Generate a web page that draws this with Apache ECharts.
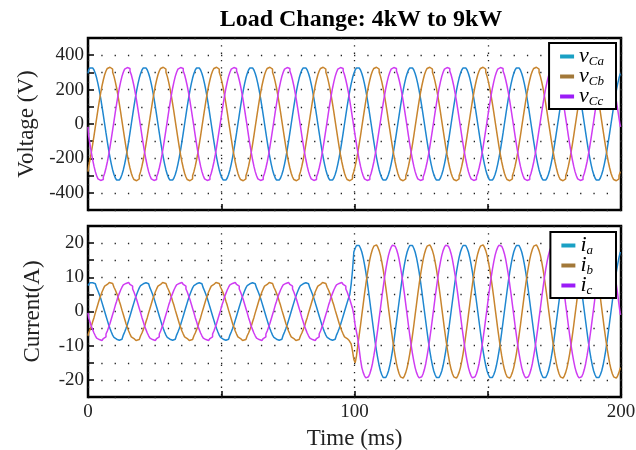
<!DOCTYPE html>
<html>
<head>
<meta charset="utf-8">
<title>Load Change: 4kW to 9kW</title>
<script src="https://cdn.jsdelivr.net/npm/echarts@6.0.0/dist/echarts.min.js"></script>
<style>
  html, body { margin: 0; padding: 0; background: #fff; }
  #main { width: 636px; height: 450px; }
</style>
</head>
<body>
<div id="main"></div>
<script>
// capacitor voltages (V), one sample every 0.5 ms, 0..200 ms (one line = one 20 ms cycle)
const vCa = [
  294, 314, 326, 330, 326, 314, 294, 267, 233, 194, 150, 102, 52, 0, -52, -102, -150, -194, -233, -267, -294, -314, -326, -330, -326, -314, -294, -267, -233, -194, -150, -102, -52, 0, 52, 102, 150, 194, 233, 267,
  294, 314, 326, 330, 326, 314, 294, 267, 233, 194, 150, 102, 52, 0, -52, -102, -150, -194, -233, -267, -294, -314, -326, -330, -326, -314, -294, -267, -233, -194, -150, -102, -52, 0, 52, 102, 150, 194, 233, 267,
  294, 314, 326, 330, 326, 314, 294, 267, 233, 194, 150, 102, 52, 0, -52, -102, -150, -194, -233, -267, -294, -314, -326, -330, -326, -314, -294, -267, -233, -194, -150, -102, -52, 0, 52, 102, 150, 194, 233, 267,
  294, 314, 326, 330, 326, 314, 294, 267, 233, 194, 150, 102, 52, 0, -52, -102, -150, -194, -233, -267, -294, -314, -326, -330, -326, -314, -294, -267, -233, -194, -150, -102, -52, 0, 52, 102, 150, 194, 233, 267,
  294, 314, 326, 330, 326, 314, 294, 267, 233, 194, 150, 102, 52, 0, -52, -102, -150, -194, -233, -267, -294, -314, -326, -330, -326, -314, -294, -267, -233, -194, -150, -102, -52, 0, 52, 102, 150, 194, 233, 267,
  294, 314, 326, 330, 326, 314, 294, 267, 233, 194, 150, 102, 52, 0, -52, -102, -150, -194, -233, -267, -294, -314, -326, -330, -326, -314, -294, -267, -233, -194, -150, -102, -52, 0, 52, 102, 150, 194, 233, 267,
  294, 314, 326, 330, 326, 314, 294, 267, 233, 194, 150, 102, 52, 0, -52, -102, -150, -194, -233, -267, -294, -314, -326, -330, -326, -314, -294, -267, -233, -194, -150, -102, -52, 0, 52, 102, 150, 194, 233, 267,
  294, 314, 326, 330, 326, 314, 294, 267, 233, 194, 150, 102, 52, 0, -52, -102, -150, -194, -233, -267, -294, -314, -326, -330, -326, -314, -294, -267, -233, -194, -150, -102, -52, 0, 52, 102, 150, 194, 233, 267,
  294, 314, 326, 330, 326, 314, 294, 267, 233, 194, 150, 102, 52, 0, -52, -102, -150, -194, -233, -267, -294, -314, -326, -330, -326, -314, -294, -267, -233, -194, -150, -102, -52, 0, 52, 102, 150, 194, 233, 267,
  294, 314, 326, 330, 326, 314, 294, 267, 233, 194, 150, 102, 52, 0, -52, -102, -150, -194, -233, -267, -294, -314, -326, -330, -326, -314, -294, -267, -233, -194, -150, -102, -52, 0, 52, 102, 150, 194, 233, 267,
  294
];
const vCb = [
  -277, -245, -208, -165, -118, -69, -17, 34, 85, 134, 180, 221, 256, 286, 308, 323, 330, 328, 319, 301, 277, 245, 208, 165, 118, 69, 17, -34, -85, -134, -180, -221, -256, -286, -308, -323, -330, -328, -319, -301,
  -277, -245, -208, -165, -118, -69, -17, 34, 85, 134, 180, 221, 256, 286, 308, 323, 330, 328, 319, 301, 277, 245, 208, 165, 118, 69, 17, -34, -85, -134, -180, -221, -256, -286, -308, -323, -330, -328, -319, -301,
  -277, -245, -208, -165, -118, -69, -17, 34, 85, 134, 180, 221, 256, 286, 308, 323, 330, 328, 319, 301, 277, 245, 208, 165, 118, 69, 17, -34, -85, -134, -180, -221, -256, -286, -308, -323, -330, -328, -319, -301,
  -277, -245, -208, -165, -118, -69, -17, 34, 85, 134, 180, 221, 256, 286, 308, 323, 330, 328, 319, 301, 277, 245, 208, 165, 118, 69, 17, -34, -85, -134, -180, -221, -256, -286, -308, -323, -330, -328, -319, -301,
  -277, -245, -208, -165, -118, -69, -17, 34, 85, 134, 180, 221, 256, 286, 308, 323, 330, 328, 319, 301, 277, 245, 208, 165, 118, 69, 17, -34, -85, -134, -180, -221, -256, -286, -308, -323, -330, -328, -319, -301,
  -277, -245, -208, -165, -118, -69, -17, 34, 85, 134, 180, 221, 256, 286, 308, 323, 330, 328, 319, 301, 277, 245, 208, 165, 118, 69, 17, -34, -85, -134, -180, -221, -256, -286, -308, -323, -330, -328, -319, -301,
  -277, -245, -208, -165, -118, -69, -17, 34, 85, 134, 180, 221, 256, 286, 308, 323, 330, 328, 319, 301, 277, 245, 208, 165, 118, 69, 17, -34, -85, -134, -180, -221, -256, -286, -308, -323, -330, -328, -319, -301,
  -277, -245, -208, -165, -118, -69, -17, 34, 85, 134, 180, 221, 256, 286, 308, 323, 330, 328, 319, 301, 277, 245, 208, 165, 118, 69, 17, -34, -85, -134, -180, -221, -256, -286, -308, -323, -330, -328, -319, -301,
  -277, -245, -208, -165, -118, -69, -17, 34, 85, 134, 180, 221, 256, 286, 308, 323, 330, 328, 319, 301, 277, 245, 208, 165, 118, 69, 17, -34, -85, -134, -180, -221, -256, -286, -308, -323, -330, -328, -319, -301,
  -277, -245, -208, -165, -118, -69, -17, 34, 85, 134, 180, 221, 256, 286, 308, 323, 330, 328, 319, 301, 277, 245, 208, 165, 118, 69, 17, -34, -85, -134, -180, -221, -256, -286, -308, -323, -330, -328, -319, -301,
  -277
];
const vCc = [
  -17, -69, -118, -165, -208, -245, -277, -301, -319, -328, -330, -323, -308, -286, -256, -221, -180, -134, -85, -34, 17, 69, 118, 165, 208, 245, 277, 301, 319, 328, 330, 323, 308, 286, 256, 221, 180, 134, 85, 34,
  -17, -69, -118, -165, -208, -245, -277, -301, -319, -328, -330, -323, -308, -286, -256, -221, -180, -134, -85, -34, 17, 69, 118, 165, 208, 245, 277, 301, 319, 328, 330, 323, 308, 286, 256, 221, 180, 134, 85, 34,
  -17, -69, -118, -165, -208, -245, -277, -301, -319, -328, -330, -323, -308, -286, -256, -221, -180, -134, -85, -34, 17, 69, 118, 165, 208, 245, 277, 301, 319, 328, 330, 323, 308, 286, 256, 221, 180, 134, 85, 34,
  -17, -69, -118, -165, -208, -245, -277, -301, -319, -328, -330, -323, -308, -286, -256, -221, -180, -134, -85, -34, 17, 69, 118, 165, 208, 245, 277, 301, 319, 328, 330, 323, 308, 286, 256, 221, 180, 134, 85, 34,
  -17, -69, -118, -165, -208, -245, -277, -301, -319, -328, -330, -323, -308, -286, -256, -221, -180, -134, -85, -34, 17, 69, 118, 165, 208, 245, 277, 301, 319, 328, 330, 323, 308, 286, 256, 221, 180, 134, 85, 34,
  -17, -69, -118, -165, -208, -245, -277, -301, -319, -328, -330, -323, -308, -286, -256, -221, -180, -134, -85, -34, 17, 69, 118, 165, 208, 245, 277, 301, 319, 328, 330, 323, 308, 286, 256, 221, 180, 134, 85, 34,
  -17, -69, -118, -165, -208, -245, -277, -301, -319, -328, -330, -323, -308, -286, -256, -221, -180, -134, -85, -34, 17, 69, 118, 165, 208, 245, 277, 301, 319, 328, 330, 323, 308, 286, 256, 221, 180, 134, 85, 34,
  -17, -69, -118, -165, -208, -245, -277, -301, -319, -328, -330, -323, -308, -286, -256, -221, -180, -134, -85, -34, 17, 69, 118, 165, 208, 245, 277, 301, 319, 328, 330, 323, 308, 286, 256, 221, 180, 134, 85, 34,
  -17, -69, -118, -165, -208, -245, -277, -301, -319, -328, -330, -323, -308, -286, -256, -221, -180, -134, -85, -34, 17, 69, 118, 165, 208, 245, 277, 301, 319, 328, 330, 323, 308, 286, 256, 221, 180, 134, 85, 34,
  -17, -69, -118, -165, -208, -245, -277, -301, -319, -328, -330, -323, -308, -286, -256, -221, -180, -134, -85, -34, 17, 69, 118, 165, 208, 245, 277, 301, 319, 328, 330, 323, 308, 286, 256, 221, 180, 134, 85, 34,
  -17
];

// load currents (A), same sampling; load steps from 4kW to 9kW at ~100 ms
const ia = [
  7.6, 8.1, 8.4, 8.5, 8.4, 8.1, 7.6, 6.9, 6.0, 5.0, 3.9, 2.6, 1.3, 0, -1.3, -2.6, -3.9, -5.0, -6.0, -6.9, -7.6, -8.1, -8.4, -8.5, -8.4, -8.1, -7.6, -6.9, -6.0, -5.0, -3.9, -2.6, -1.3, 0, 1.3, 2.6, 3.9, 5.0, 6.0, 6.9,
  7.6, 8.1, 8.4, 8.5, 8.4, 8.1, 7.6, 6.9, 6.0, 5.0, 3.9, 2.6, 1.3, 0, -1.3, -2.6, -3.9, -5.0, -6.0, -6.9, -7.6, -8.1, -8.4, -8.5, -8.4, -8.1, -7.6, -6.9, -6.0, -5.0, -3.9, -2.6, -1.3, 0, 1.3, 2.6, 3.9, 5.0, 6.0, 6.9,
  7.6, 8.1, 8.4, 8.5, 8.4, 8.1, 7.6, 6.9, 6.0, 5.0, 3.9, 2.6, 1.3, 0, -1.3, -2.6, -3.9, -5.0, -6.0, -6.9, -7.6, -8.1, -8.4, -8.5, -8.4, -8.1, -7.6, -6.9, -6.0, -5.0, -3.9, -2.6, -1.3, 0, 1.3, 2.6, 3.9, 5.0, 6.0, 6.9,
  7.6, 8.1, 8.4, 8.5, 8.4, 8.1, 7.6, 6.9, 6.0, 5.0, 3.9, 2.6, 1.3, 0, -1.3, -2.6, -3.9, -5.0, -6.0, -6.9, -7.6, -8.1, -8.4, -8.5, -8.4, -8.1, -7.6, -6.9, -6.0, -5.0, -3.9, -2.6, -1.3, 0, 1.3, 2.6, 3.9, 5.0, 6.0, 6.9,
  7.6, 8.1, 8.4, 8.5, 8.4, 8.1, 7.6, 6.9, 6.0, 5.0, 3.9, 2.6, 1.3, 0, -1.3, -2.6, -3.9, -5.0, -6.0, -6.9, -7.6, -8.1, -8.4, -8.5, -8.4, -8.1, -7.6, -6.9, -6.0, -5.0, -3.9, -2.6, -1.3, 0, 1.3, 2.6, 3.9, 5.0, 8.0, 12.0,
  17.4, 18.5, 19.3, 19.5, 19.3, 18.5, 17.4, 15.8, 13.8, 11.5, 8.9, 6.0, 3.0, 0, -3.0, -6.0, -8.9, -11.5, -13.8, -15.8, -17.4, -18.5, -19.3, -19.5, -19.3, -18.5, -17.4, -15.8, -13.8, -11.5, -8.9, -6.0, -3.0, 0, 3.0, 6.0, 8.9, 11.5, 13.8, 15.8,
  17.4, 18.5, 19.3, 19.5, 19.3, 18.5, 17.4, 15.8, 13.8, 11.5, 8.9, 6.0, 3.0, 0, -3.0, -6.0, -8.9, -11.5, -13.8, -15.8, -17.4, -18.5, -19.3, -19.5, -19.3, -18.5, -17.4, -15.8, -13.8, -11.5, -8.9, -6.0, -3.0, 0, 3.0, 6.0, 8.9, 11.5, 13.8, 15.8,
  17.4, 18.5, 19.3, 19.5, 19.3, 18.5, 17.4, 15.8, 13.8, 11.5, 8.9, 6.0, 3.0, 0, -3.0, -6.0, -8.9, -11.5, -13.8, -15.8, -17.4, -18.5, -19.3, -19.5, -19.3, -18.5, -17.4, -15.8, -13.8, -11.5, -8.9, -6.0, -3.0, 0, 3.0, 6.0, 8.9, 11.5, 13.8, 15.8,
  17.4, 18.5, 19.3, 19.5, 19.3, 18.5, 17.4, 15.8, 13.8, 11.5, 8.9, 6.0, 3.0, 0, -3.0, -6.0, -8.9, -11.5, -13.8, -15.8, -17.4, -18.5, -19.3, -19.5, -19.3, -18.5, -17.4, -15.8, -13.8, -11.5, -8.9, -6.0, -3.0, 0, 3.0, 6.0, 8.9, 11.5, 13.8, 15.8,
  17.4, 18.5, 19.3, 19.5, 19.3, 18.5, 17.4, 15.8, 13.8, 11.5, 8.9, 6.0, 3.0, 0, -3.0, -6.0, -8.9, -11.5, -13.8, -15.8, -17.4, -18.5, -19.3, -19.5, -19.3, -18.5, -17.4, -15.8, -13.8, -11.5, -8.9, -6.0, -3.0, 0, 3.0, 6.0, 8.9, 11.5, 13.8, 15.8,
  17.4
];
const ib = [
  -7.1, -6.3, -5.3, -4.3, -3.0, -1.8, -0.4, 0.9, 2.2, 3.5, 4.6, 5.7, 6.6, 7.4, 7.9, 8.3, 8.5, 8.5, 8.2, 7.8, 7.1, 6.3, 5.3, 4.3, 3.0, 1.8, 0.4, -0.9, -2.2, -3.5, -4.6, -5.7, -6.6, -7.4, -7.9, -8.3, -8.5, -8.5, -8.2, -7.8,
  -7.1, -6.3, -5.3, -4.3, -3.0, -1.8, -0.4, 0.9, 2.2, 3.5, 4.6, 5.7, 6.6, 7.4, 7.9, 8.3, 8.5, 8.5, 8.2, 7.8, 7.1, 6.3, 5.3, 4.3, 3.0, 1.8, 0.4, -0.9, -2.2, -3.5, -4.6, -5.7, -6.6, -7.4, -7.9, -8.3, -8.5, -8.5, -8.2, -7.8,
  -7.1, -6.3, -5.3, -4.3, -3.0, -1.8, -0.4, 0.9, 2.2, 3.5, 4.6, 5.7, 6.6, 7.4, 7.9, 8.3, 8.5, 8.5, 8.2, 7.8, 7.1, 6.3, 5.3, 4.3, 3.0, 1.8, 0.4, -0.9, -2.2, -3.5, -4.6, -5.7, -6.6, -7.4, -7.9, -8.3, -8.5, -8.5, -8.2, -7.8,
  -7.1, -6.3, -5.3, -4.3, -3.0, -1.8, -0.4, 0.9, 2.2, 3.5, 4.6, 5.7, 6.6, 7.4, 7.9, 8.3, 8.5, 8.5, 8.2, 7.8, 7.1, 6.3, 5.3, 4.3, 3.0, 1.8, 0.4, -0.9, -2.2, -3.5, -4.6, -5.7, -6.6, -7.4, -7.9, -8.3, -8.5, -8.5, -8.2, -7.8,
  -7.1, -6.3, -5.3, -4.3, -3.0, -1.8, -0.4, 0.9, 2.2, 3.5, 4.6, 5.7, 6.6, 7.4, 7.9, 8.3, 8.5, 8.5, 8.2, 7.8, 7.1, 6.3, 5.3, 4.3, 3.0, 1.8, 0.4, -0.9, -2.2, -3.5, -4.6, -5.7, -6.6, -7.4, -7.9, -8.3, -8.5, -8.5, -9.5, -11.5,
  -14.0, -15.0, -13.0, -9.8, -7.0, -4.1, -1.0, 2.0, 5.1, 7.9, 10.6, 13.0, 15.2, 16.9, 18.2, 19.1, 19.5, 19.4, 18.8, 17.8, 16.4, 14.5, 12.3, 9.8, 7.0, 4.1, 1.0, -2.0, -5.1, -7.9, -10.6, -13.0, -15.2, -16.9, -18.2, -19.1, -19.5, -19.4, -18.8, -17.8,
  -16.4, -14.5, -12.3, -9.8, -7.0, -4.1, -1.0, 2.0, 5.1, 7.9, 10.6, 13.0, 15.2, 16.9, 18.2, 19.1, 19.5, 19.4, 18.8, 17.8, 16.4, 14.5, 12.3, 9.8, 7.0, 4.1, 1.0, -2.0, -5.1, -7.9, -10.6, -13.0, -15.2, -16.9, -18.2, -19.1, -19.5, -19.4, -18.8, -17.8,
  -16.4, -14.5, -12.3, -9.8, -7.0, -4.1, -1.0, 2.0, 5.1, 7.9, 10.6, 13.0, 15.2, 16.9, 18.2, 19.1, 19.5, 19.4, 18.8, 17.8, 16.4, 14.5, 12.3, 9.8, 7.0, 4.1, 1.0, -2.0, -5.1, -7.9, -10.6, -13.0, -15.2, -16.9, -18.2, -19.1, -19.5, -19.4, -18.8, -17.8,
  -16.4, -14.5, -12.3, -9.8, -7.0, -4.1, -1.0, 2.0, 5.1, 7.9, 10.6, 13.0, 15.2, 16.9, 18.2, 19.1, 19.5, 19.4, 18.8, 17.8, 16.4, 14.5, 12.3, 9.8, 7.0, 4.1, 1.0, -2.0, -5.1, -7.9, -10.6, -13.0, -15.2, -16.9, -18.2, -19.1, -19.5, -19.4, -18.8, -17.8,
  -16.4, -14.5, -12.3, -9.8, -7.0, -4.1, -1.0, 2.0, 5.1, 7.9, 10.6, 13.0, 15.2, 16.9, 18.2, 19.1, 19.5, 19.4, 18.8, 17.8, 16.4, 14.5, 12.3, 9.8, 7.0, 4.1, 1.0, -2.0, -5.1, -7.9, -10.6, -13.0, -15.2, -16.9, -18.2, -19.1, -19.5, -19.4, -18.8, -17.8,
  -16.4
];
const ic = [
  -0.4, -1.8, -3.0, -4.3, -5.3, -6.3, -7.1, -7.8, -8.2, -8.5, -8.5, -8.3, -7.9, -7.4, -6.6, -5.7, -4.6, -3.5, -2.2, -0.9, 0.4, 1.8, 3.0, 4.3, 5.3, 6.3, 7.1, 7.8, 8.2, 8.5, 8.5, 8.3, 7.9, 7.4, 6.6, 5.7, 4.6, 3.5, 2.2, 0.9,
  -0.4, -1.8, -3.0, -4.3, -5.3, -6.3, -7.1, -7.8, -8.2, -8.5, -8.5, -8.3, -7.9, -7.4, -6.6, -5.7, -4.6, -3.5, -2.2, -0.9, 0.4, 1.8, 3.0, 4.3, 5.3, 6.3, 7.1, 7.8, 8.2, 8.5, 8.5, 8.3, 7.9, 7.4, 6.6, 5.7, 4.6, 3.5, 2.2, 0.9,
  -0.4, -1.8, -3.0, -4.3, -5.3, -6.3, -7.1, -7.8, -8.2, -8.5, -8.5, -8.3, -7.9, -7.4, -6.6, -5.7, -4.6, -3.5, -2.2, -0.9, 0.4, 1.8, 3.0, 4.3, 5.3, 6.3, 7.1, 7.8, 8.2, 8.5, 8.5, 8.3, 7.9, 7.4, 6.6, 5.7, 4.6, 3.5, 2.2, 0.9,
  -0.4, -1.8, -3.0, -4.3, -5.3, -6.3, -7.1, -7.8, -8.2, -8.5, -8.5, -8.3, -7.9, -7.4, -6.6, -5.7, -4.6, -3.5, -2.2, -0.9, 0.4, 1.8, 3.0, 4.3, 5.3, 6.3, 7.1, 7.8, 8.2, 8.5, 8.5, 8.3, 7.9, 7.4, 6.6, 5.7, 4.6, 3.5, 2.2, 0.9,
  -0.4, -1.8, -3.0, -4.3, -5.3, -6.3, -7.1, -7.8, -8.2, -8.5, -8.5, -8.3, -7.9, -7.4, -6.6, -5.7, -4.6, -3.5, -2.2, -0.9, 0.4, 1.8, 3.0, 4.3, 5.3, 6.3, 7.1, 7.8, 8.2, 8.5, 8.5, 8.3, 7.9, 7.4, 6.6, 5.7, 4.6, 3.5, 2.2, 0.9,
  -1.0, -4.1, -6.0, -8.0, -11.0, -14.0, -16.4, -17.8, -18.8, -19.4, -19.5, -19.1, -18.2, -16.9, -15.2, -13.0, -10.6, -7.9, -5.1, -2.0, 1.0, 4.1, 7.0, 9.8, 12.3, 14.5, 16.4, 17.8, 18.8, 19.4, 19.5, 19.1, 18.2, 16.9, 15.2, 13.0, 10.6, 7.9, 5.1, 2.0,
  -1.0, -4.1, -7.0, -9.8, -12.3, -14.5, -16.4, -17.8, -18.8, -19.4, -19.5, -19.1, -18.2, -16.9, -15.2, -13.0, -10.6, -7.9, -5.1, -2.0, 1.0, 4.1, 7.0, 9.8, 12.3, 14.5, 16.4, 17.8, 18.8, 19.4, 19.5, 19.1, 18.2, 16.9, 15.2, 13.0, 10.6, 7.9, 5.1, 2.0,
  -1.0, -4.1, -7.0, -9.8, -12.3, -14.5, -16.4, -17.8, -18.8, -19.4, -19.5, -19.1, -18.2, -16.9, -15.2, -13.0, -10.6, -7.9, -5.1, -2.0, 1.0, 4.1, 7.0, 9.8, 12.3, 14.5, 16.4, 17.8, 18.8, 19.4, 19.5, 19.1, 18.2, 16.9, 15.2, 13.0, 10.6, 7.9, 5.1, 2.0,
  -1.0, -4.1, -7.0, -9.8, -12.3, -14.5, -16.4, -17.8, -18.8, -19.4, -19.5, -19.1, -18.2, -16.9, -15.2, -13.0, -10.6, -7.9, -5.1, -2.0, 1.0, 4.1, 7.0, 9.8, 12.3, 14.5, 16.4, 17.8, 18.8, 19.4, 19.5, 19.1, 18.2, 16.9, 15.2, 13.0, 10.6, 7.9, 5.1, 2.0,
  -1.0, -4.1, -7.0, -9.8, -12.3, -14.5, -16.4, -17.8, -18.8, -19.4, -19.5, -19.1, -18.2, -16.9, -15.2, -13.0, -10.6, -7.9, -5.1, -2.0, 1.0, 4.1, 7.0, 9.8, 12.3, 14.5, 16.4, 17.8, 18.8, 19.4, 19.5, 19.1, 18.2, 16.9, 15.2, 13.0, 10.6, 7.9, 5.1, 2.0,
  -1.0
];

const sampleStepMs = 0.5;
const timeMs = vCa.map((v, i) => i * sampleStepMs);

const voltageNames = ['vCa', 'vCb', 'vCc'];
const currentNames = ['ia', 'ib', 'ic'];
const legendLabels = {
  vCa: '{m|v}{s|Ca}', vCb: '{m|v}{s|Cb}', vCc: '{m|v}{s|Cc}',
  ia: '{m|i}{s|a}', ib: '{m|i}{s|b}', ic: '{m|i}{s|c}',
};

const lineColors = ['#1f87d0', '#c8852e', '#cf3cf2'];
const legendColors = ['#1aa0c4', '#a27839', '#9b1cf7'];
const serif = 'Liberation Serif';

function pairs(values) {
  return values.map((v, i) => [timeMs[i], v]);
}

function makeSeries(name, values, idx, axisIdx) {
  return {
    name: name,
    type: 'line',
    xAxisIndex: axisIdx,
    yAxisIndex: axisIdx,
    step: 'middle',
    showSymbol: false,
    data: pairs(values),
    lineStyle: { width: 1.5, color: lineColors[idx] },
    itemStyle: { color: lineColors[idx] },
  };
}

const dotted = { color: '#222', width: 1.3, type: [1.3, 12] };
const dottedV = { color: '#222', width: 1.3, type: [1.3, 6] };

function legendFor(names, top, padRight) {
  return {
    orient: 'vertical',
    right: 20,
    top: top,
    icon: 'rect',
    itemWidth: 14,
    itemHeight: 4,
    itemGap: -3,
    backgroundColor: '#fff',
    borderColor: '#000',
    borderWidth: 2,
    borderRadius: 0,
    padding: [2, padRight, 1, 11],
    data: names.map((n, i) => ({ name: n, itemStyle: { color: legendColors[i] } })),
    formatter: (name) => legendLabels[name],
    textStyle: {
      lineHeight: 14,
      rich: {
        m: { fontFamily: serif, fontStyle: 'italic', fontSize: 22, color: '#000', lineHeight: 14 },
        s: { fontFamily: serif, fontStyle: 'italic', fontSize: 13, color: '#000', lineHeight: 4, padding: [10, 0, 0, 0] },
      },
    },
  };
}

const chart = echarts.init(document.getElementById('main'));
chart.setOption({
  animation: false,
  title: {
    text: 'Load Change: 4kW to 9kW',
    left: 356,
    textAlign: 'center',
    top: 3,
    textStyle: { fontFamily: serif, fontWeight: 'bold', fontSize: 24, color: '#000' },
  },
  legend: [legendFor(voltageNames, 43, 12), legendFor(currentNames, 232, 23)],
  grid: [
    { left: 88, right: 15, top: 38, height: 172, show: true, borderColor: '#000', borderWidth: 2.5, outerBoundsMode: 'none' },
    { left: 88, right: 15, top: 226, height: 171, show: true, borderColor: '#000', borderWidth: 2.5, outerBoundsMode: 'none' },
  ],
  xAxis: [0, 1].map((g) => ({
    type: 'value',
    gridIndex: g,
    min: 0,
    max: 200,
    interval: 50,
    axisLine: { show: false, onZero: false },
    axisTick: { show: true, inside: true, length: 6, lineStyle: { color: '#000', width: 1.5 } },
    axisLabel: {
      show: g === 1,
      margin: 6,
      fontFamily: serif,
      fontSize: 19,
      color: '#222',
      formatter: (v) => (v % 100 === 0 ? String(v) : ''),
    },
    splitLine: { show: true, lineStyle: dottedV },
    name: g === 1 ? 'Time (ms)' : '',
    nameLocation: 'middle',
    nameGap: 30,
    nameTextStyle: { fontFamily: serif, fontSize: 23, color: '#222' },
  })),
  yAxis: [
    {
      type: 'value',
      gridIndex: 0,
      min: -500,
      max: 500,
      interval: 100,
      axisLine: { show: false, onZero: false },
      axisTick: { show: true, inside: true, length: 6, lineStyle: { color: '#000', width: 1.5 } },
      axisLabel: {
        margin: 4,
        fontFamily: serif,
        fontSize: 19,
        color: '#222',
        formatter: (v) => (v % 200 === 0 ? String(v) : ''),
      },
      splitLine: { show: true, lineStyle: dotted },
      name: 'Voltage (V)',
      nameLocation: 'middle',
      nameGap: 41,
      nameTextStyle: { fontFamily: serif, fontSize: 23, color: '#222' },
    },
    {
      type: 'value',
      gridIndex: 1,
      min: -25,
      max: 25,
      interval: 5,
      axisLine: { show: false, onZero: false },
      axisTick: { show: true, inside: true, length: 6, lineStyle: { color: '#000', width: 1.5 } },
      axisLabel: {
        margin: 4,
        fontFamily: serif,
        fontSize: 19,
        color: '#222',
        formatter: (v) => (v % 10 === 0 ? String(v) : ''),
      },
      splitLine: { show: true, lineStyle: dotted },
      name: 'Current(A)',
      nameLocation: 'middle',
      nameGap: 44,
      nameTextStyle: { fontFamily: serif, fontSize: 23, color: '#222' },
    },
  ],
  series: [
    makeSeries('vCa', vCa, 0, 0),
    makeSeries('vCb', vCb, 1, 0),
    makeSeries('vCc', vCc, 2, 0),
    makeSeries('ia', ia, 0, 1),
    makeSeries('ib', ib, 1, 1),
    makeSeries('ic', ic, 2, 1),
  ],
});
</script>
</body>
</html>
